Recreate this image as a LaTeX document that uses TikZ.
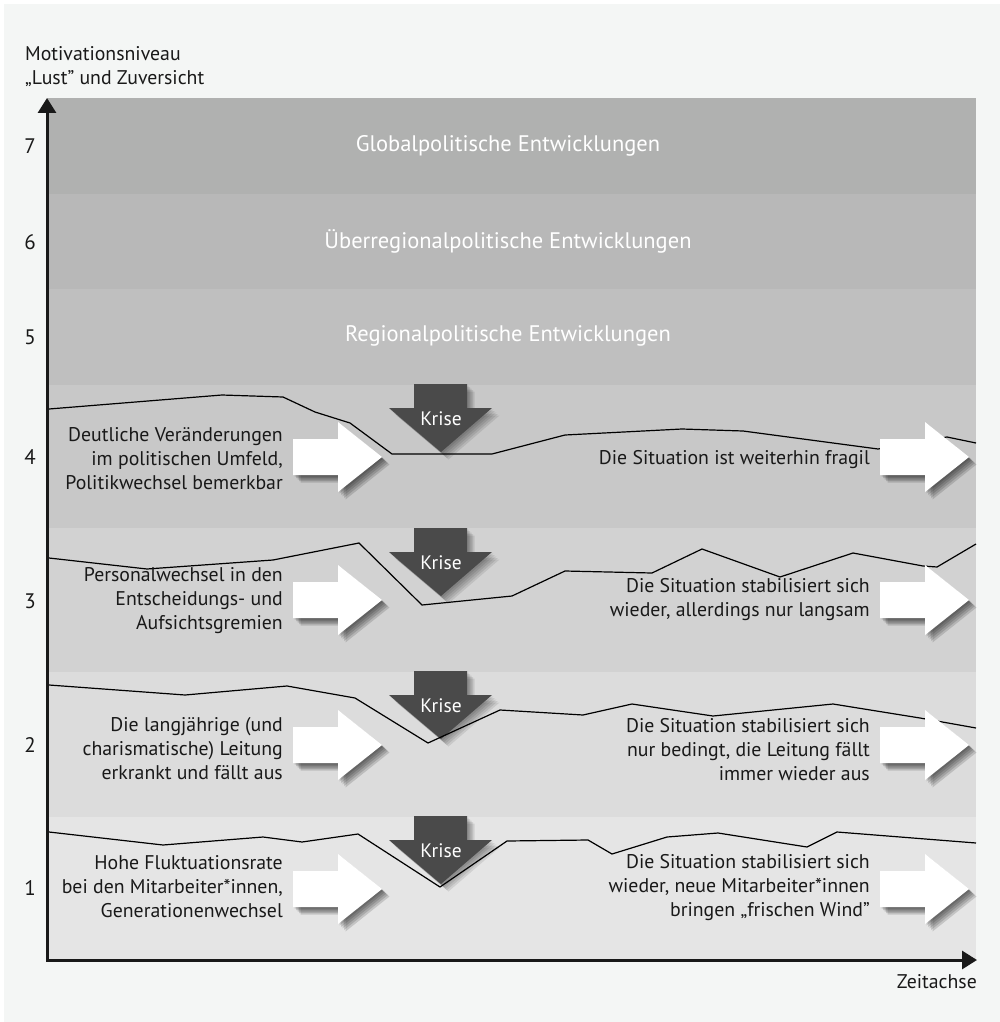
\documentclass[tikz,border=0pt]{standalone}
\usepackage{fontspec}
\setmainfont{PT Sans}
\usetikzlibrary{arrows.meta,shadows}

\definecolor{pagebg}{RGB}{244,246,245}
\definecolor{bandvii}{RGB}{176,177,176}
\definecolor{bandvi}{RGB}{184,184,184}
\definecolor{bandv}{RGB}{191,191,191}
\definecolor{bandiv}{RGB}{200,200,200}
\definecolor{bandiii}{RGB}{210,210,210}
\definecolor{bandii}{RGB}{220,220,220}
\definecolor{bandi}{RGB}{229,229,229}
\definecolor{krisegrey}{RGB}{74,74,74}

\begin{document}
\begin{tikzpicture}[x=1pt,y=-1pt,
    every node/.style={inner sep=0pt},
    bodytext/.style={font=\fontsize{19.8}{24}\selectfont, text=black!90, align=right, anchor=east},
    bandtitle/.style={font=\fontsize{22.5}{26}\selectfont, text=white},
    levelnum/.style={font=\fontsize{21}{24}\selectfont, text=black!90},
    axis/.style={line width=3pt, draw=black!90, {Triangle[width=18pt,length=15pt]}-{Triangle[width=18pt,length=15pt]}},
    curve/.style={line width=1.2pt, draw=black},
    softshadow/.style={
        drop shadow={shadow xshift=1.5pt, shadow yshift=-1.5pt, opacity=#1, fill=black},
        drop shadow={shadow xshift=3pt, shadow yshift=-3pt, opacity=#1, fill=black},
        drop shadow={shadow xshift=4.5pt, shadow yshift=-4.5pt, opacity=#1, fill=black},
        drop shadow={shadow xshift=6pt, shadow yshift=-6pt, opacity=#1, fill=black},
        drop shadow={shadow xshift=7.5pt, shadow yshift=-7.5pt, opacity=#1, fill=black}},
    whitearrow/.style={fill=white, softshadow=0.14},
    crisisarrow/.style={fill=krisegrey, softshadow=0.09},
    krisetext/.style={font=\fontsize{19.5}{22}\selectfont, text=white}]

    \useasboundingbox (0,0) rectangle (1000,1022);
    \fill[white] (0,0) rectangle (1000,1022);
    \fill[pagebg] (4,4) rectangle (1000,1022);

    % bands
    \foreach \top/\bot/\col in {98/194/bandvii, 194/289/bandvi, 289/385/bandv, 385/528/bandiv,
                                528/672/bandiii, 672/817/bandii, 817/960/bandi} {
        \fill[\col] (47,\top) rectangle (976,\bot);
    }

    \node[bandtitle] (global) at (508,146) {Globalpolitische Entwicklungen};
    \node[bandtitle] (ueberreg) at (508,241) {Überregionalpolitische Entwicklungen};
    \node[bandtitle] (regional) at (508,336) {Regionalpolitische Entwicklungen};

    % krise arrows
    \foreach \ytop [count=\i] in {384,528,671,816} {
        \fill[crisisarrow] (414,\ytop) -- (467,\ytop) -- (467,\ytop+24) -- (492,\ytop+24)
            -- (441,\ytop+68) -- (389,\ytop+24) -- (414,\ytop+24) -- cycle;
        \node[krisetext] (krise\i) at (441,\ytop+35) {Krise};
    }

    % motivation curves
    \draw[curve] (49,409) -- (222,395) -- (283,397) -- (315,412) -- (350,423) -- (392,454) -- (492,454)
        -- (565,435) -- (682,429) -- (743,431) -- (878,449) -- (947,437) -- (976,443);
    \draw[curve] (49,558) -- (147,569) -- (273,560) -- (359,543) -- (422,605) -- (512,596) -- (565,571)
        -- (652,573) -- (702,549) -- (780,577) -- (853,553) -- (923,566) -- (937,567) -- (976,544);
    \draw[curve] (49,685) -- (185,695) -- (287,686) -- (355,698) -- (428,743) -- (500,710) -- (583,715)
        -- (632,704) -- (713,716) -- (833,704) -- (920,718) -- (976,728);
    \draw[curve] (49,832) -- (163,845) -- (263,837) -- (302,842) -- (358,834) -- (440,887) -- (507,841)
        -- (588,840) -- (612,854) -- (667,837) -- (718,833) -- (807,847) -- (837,832) -- (976,843);

    % white arrows
    \foreach \yc in {457,600,745,889} {
        \foreach \xs in {293,880} {
            \fill[whitearrow] (\xs,\yc-18) -- (\xs+45,\yc-18) -- (\xs+45,\yc-35) -- (\xs+89,\yc)
                -- (\xs+45,\yc+35) -- (\xs+45,\yc+18) -- (\xs,\yc+18) -- cycle;
        }
    }

    % texts
    \node[bodytext] (causeiv) at (283,459) {Deutliche Veränderungen\\im politischen Umfeld,\\Politikwechsel bemerkbar};
    \node[bodytext] (causeiii) at (283,601) {Personalwechsel in den\\Entscheidungs- und\\Aufsichtsgremien};
    \node[bodytext] (causeii) at (283,749) {Die langjährige (und\\charismatische) Leitung\\erkrankt und fällt aus};
    \node[bodytext] (causei) at (283,887) {Hohe Fluktuationsrate\\bei den Mitarbeiter*innen,\\Generationenwechsel};

    \node[bodytext] (effectiv) at (870,460) {Die Situation ist weiterhin fragil};
    \node[bodytext] (effectiii) at (870,600) {Die Situation stabilisiert sich\\wieder, allerdings nur langsam};
    \node[bodytext] (effectii) at (870,750) {Die Situation stabilisiert sich\\nur bedingt, die Leitung fällt\\immer wieder aus};
    \node[bodytext] (effecti) at (870,888) {Die Situation stabilisiert sich\\wieder, neue Mitarbeiter*innen\\bringen „frischen Wind"};

    % axes
    \coordinate (origin) at (47,960);
    \coordinate (ytop) at (47,98);
    \coordinate (xend) at (977,960);
    \draw[axis] (ytop) -- (origin) -- (xend);

    \node[levelnum] (lvvii) at (30,146) {7};
    \node[levelnum] (lvvi) at (30,242) {6};
    \node[levelnum] (lvv) at (30,337) {5};
    \node[levelnum] (lviv) at (30,457) {4};
    \node[levelnum] (lviii) at (30,601) {3};
    \node[levelnum] (lvii) at (30,745) {2};
    \node[levelnum] (lvi) at (30,888) {1};

    \node[font=\fontsize{19.8}{24}\selectfont, text=black!90, align=left, anchor=west] (ylabel) at (25,67)
        {Motivationsniveau\\„Lust" und Zuversicht};
    \node[font=\fontsize{19.8}{24}\selectfont, text=black!90, anchor=east] (xlabel) at (977,982) {Zeitachse};
\end{tikzpicture}
\end{document}
